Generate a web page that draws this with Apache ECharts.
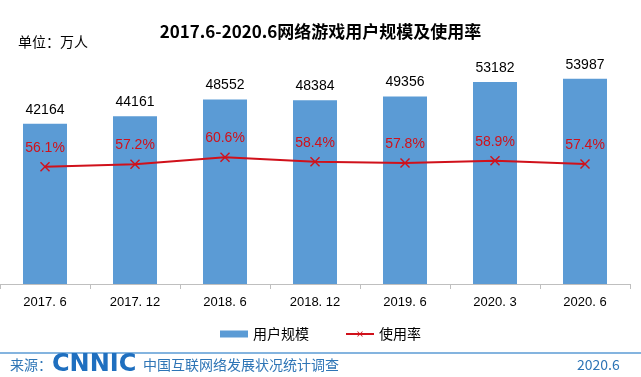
<!DOCTYPE html>
<html>
<head>
<meta charset="utf-8">
<script src="https://cdn.jsdelivr.net/npm/echarts@6/dist/echarts.min.js"></script>
<style>
  html, body { margin: 0; padding: 0; background: #fff; }
  #main { width: 641px; height: 377px; }
</style>
</head>
<body>
<div id="main"></div>
<script>
var categories = ['2017. 6', '2017. 12', '2018. 6', '2018. 12', '2019. 6', '2020. 3', '2020. 6'];
var users = [42164, 44161, 48552, 48384, 49356, 53182, 53987];
var rate = [56.1, 57.2, 60.6, 58.4, 57.8, 58.9, 57.4];

var cjk = '"Noto Sans CJK SC", sans-serif';
var latin = '"Liberation Sans", Arial, sans-serif';
var blue = '#5b9bd5';
var red = '#d0111b';
var xMark = 'path://M0,1L1,0L5,4L9,0L10,1L6,5L10,9L9,10L5,6L1,10L0,9L4,5Z';

var chart = echarts.init(document.getElementById('main'));
chart.setOption({
  backgroundColor: '#fff',
  animation: false,
  title: {
    text: '2017.6-2020.6网络游戏用户规模及使用率',
    left: 'center',
    top: 18,
    textStyle: { fontFamily: cjk, fontSize: 17, fontWeight: 'bold', color: '#000' }
  },
  legend: {
    top: 322,
    left: 'center',
    itemWidth: 28,
    itemHeight: 7,
    itemGap: 36,
    textStyle: { fontFamily: cjk, fontSize: 14, color: '#000' },
    data: [
      { name: '用户规模', icon: 'rect' },
      { name: '使用率' }
    ]
  },
  grid: { left: 0, right: 11, top: 56, bottom: 93 },
  xAxis: {
    type: 'category',
    data: categories,
    axisLine: { lineStyle: { color: '#bfbfbf' } },
    axisTick: { show: true, length: 5, lineStyle: { color: '#bfbfbf' } },
    axisLabel: { fontFamily: latin, fontSize: 13, color: '#000', margin: 12 }
  },
  yAxis: [
    { type: 'value', min: 0, max: 60000, show: false, splitLine: { show: false } },
    { type: 'value', min: 0, max: 109, show: false, splitLine: { show: false } }
  ],
  series: [
    {
      name: '用户规模',
      type: 'bar',
      data: users,
      barWidth: 44,
      itemStyle: { color: blue },
      label: {
        show: true,
        position: 'top',
        distance: 7,
        fontFamily: latin,
        fontSize: 14,
        color: '#000'
      },
      z: 2
    },
    {
      name: '使用率',
      type: 'line',
      yAxisIndex: 1,
      data: rate,
      symbol: xMark,
      symbolSize: 10,
      lineStyle: { color: red, width: 2 },
      itemStyle: { color: red },
      label: {
        show: true,
        position: 'top',
        distance: 7,
        fontFamily: latin,
        fontSize: 14,
        color: red,
        formatter: function (p) { return p.value.toFixed(1) + '%'; }
      },
      z: 3
    }
  ],
  graphic: [
    {
      type: 'text', left: 18, top: 35,
      style: { text: '单位：万人', fontFamily: cjk, fontSize: 14, fill: '#000' }
    },
    {
      type: 'line',
      shape: { x1: 0, y1: 353, x2: 641, y2: 353 },
      style: { stroke: blue, lineWidth: 1.5 }
    },
    {
      type: 'text', left: 10, top: 358,
      style: { text: '来源：', fontFamily: cjk, fontSize: 14, fill: '#2e75b6' }
    },
    {
      type: 'text', left: 52, top: 353,
      style: { text: 'CNNIC', fontFamily: '"DejaVu Sans", sans-serif', fontSize: 24, fontWeight: 'bold', fill: '#1f6fbf' }
    },
    {
      type: 'text', left: 143, top: 358,
      style: { text: '中国互联网络发展状况统计调查', fontFamily: cjk, fontSize: 14, fill: '#2e75b6' }
    },
    {
      type: 'text', left: 577, top: 358,
      style: { text: '2020.6', fontFamily: cjk, fontSize: 14, fill: '#2e75b6' }
    }
  ]
});
</script>
</body>
</html>
